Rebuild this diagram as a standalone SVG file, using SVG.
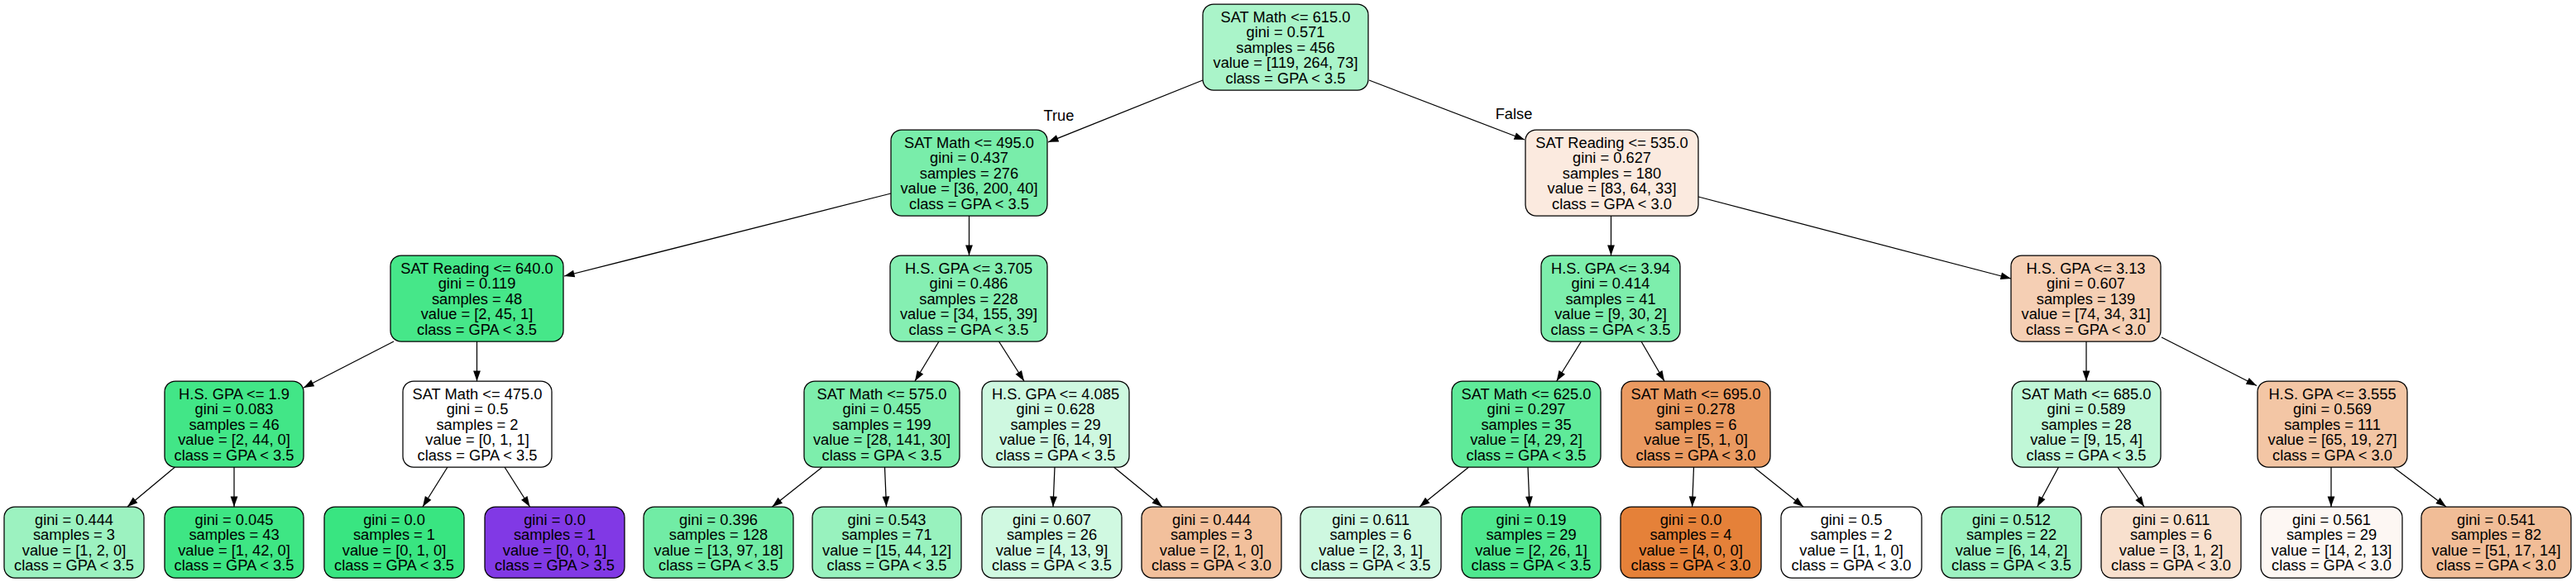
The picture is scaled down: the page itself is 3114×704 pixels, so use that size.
<svg xmlns="http://www.w3.org/2000/svg" width="3114" height="704" viewBox="0 0 3114 704">
<style>
.bg{fill:#ffffff}
.box{stroke:#000000;stroke-width:1.25}
text{font-family:"Liberation Sans",Helvetica,Arial,sans-serif;font-size:18.3px;fill:#000000;text-anchor:middle}
.edge line{stroke:#000000;stroke-width:1.25;marker-end:url(#arr)}
</style>
<defs>
<marker id="arr" markerUnits="userSpaceOnUse" markerWidth="14" markerHeight="10" viewBox="0 -5 13 10" refX="12.5" refY="0" orient="auto">
<path d="M0,-4.4 L12.5,0 L0,4.4 z" fill="#000000"/>
</marker>
</defs>
<rect class="bg" x="0" y="0" width="3114" height="704"/>

<g id="connectors" class="edge">
<line x1="1454" y1="97" x2="1267" y2="172"/>
<line x1="1655" y1="97" x2="1843" y2="169"/>
<line x1="1077" y1="234" x2="682" y2="334"/>
<line x1="1171.5" y1="261" x2="1171.5" y2="309"/>
<line x1="1947.5" y1="261" x2="1947.5" y2="309"/>
<line x1="2053" y1="238" x2="2431" y2="337"/>
<line x1="476" y1="413" x2="367" y2="469"/>
<line x1="576.5" y1="413" x2="576.5" y2="461"/>
<line x1="1135" y1="413" x2="1106" y2="461"/>
<line x1="1207.5" y1="413" x2="1238" y2="461"/>
<line x1="1911.5" y1="413" x2="1881.7" y2="461"/>
<line x1="1984" y1="413" x2="2012" y2="461"/>
<line x1="2522" y1="413" x2="2522" y2="461"/>
<line x1="2613" y1="408" x2="2728" y2="466.5"/>
<line x1="211.5" y1="565" x2="154" y2="613"/>
<line x1="283" y1="565" x2="283" y2="613"/>
<line x1="541" y1="565" x2="511" y2="613"/>
<line x1="610" y1="565" x2="640.5" y2="613"/>
<line x1="994" y1="565" x2="933.5" y2="613"/>
<line x1="1069.5" y1="565" x2="1071.5" y2="613"/>
<line x1="1275" y1="565" x2="1273" y2="613"/>
<line x1="1346.5" y1="565" x2="1405" y2="613"/>
<line x1="1775.5" y1="565" x2="1716" y2="613"/>
<line x1="1847" y1="565" x2="1849" y2="613"/>
<line x1="2047.5" y1="565" x2="2045.6" y2="613"/>
<line x1="2120" y1="565" x2="2180" y2="613"/>
<line x1="2488.5" y1="565" x2="2462.7" y2="613"/>
<line x1="2560" y1="565" x2="2592" y2="613"/>
<line x1="2818" y1="565" x2="2818" y2="613"/>
<line x1="2893" y1="565" x2="2957" y2="613"/>
<text x="1280" y="146">True</text>
<text x="1830" y="143.5">False</text>
</g>

<g id="node0"><rect class="box" x="1454" y="5" width="200" height="104" rx="13" fill="#aaf4c9"/>
<text x="1554" y="26.5">SAT Math &lt;= 615.0</text><text x="1554" y="45.15">gini = 0.571</text><text x="1554" y="63.8">samples = 456</text><text x="1554" y="82.45">value = [119, 264, 73]</text><text x="1554" y="101.1">class = GPA &lt; 3.5</text></g>

<g id="node1"><rect class="box" x="1077" y="157" width="189" height="104" rx="13" fill="#79edaa"/>
<text x="1171.5" y="178.5">SAT Math &lt;= 495.0</text><text x="1171.5" y="197.15">gini = 0.437</text><text x="1171.5" y="215.8">samples = 276</text><text x="1171.5" y="234.45">value = [36, 200, 40]</text><text x="1171.5" y="253.1">class = GPA &lt; 3.5</text></g>

<g id="node2"><rect class="box" x="1844" y="157" width="209" height="104" rx="13" fill="#fbeadf"/>
<text x="1948.5" y="178.5">SAT Reading &lt;= 535.0</text><text x="1948.5" y="197.15">gini = 0.627</text><text x="1948.5" y="215.8">samples = 180</text><text x="1948.5" y="234.45">value = [83, 64, 33]</text><text x="1948.5" y="253.1">class = GPA &lt; 3.0</text></g>

<g id="node3"><rect class="box" x="472" y="309" width="209" height="104" rx="13" fill="#46e789"/>
<text x="576.5" y="330.5">SAT Reading &lt;= 640.0</text><text x="576.5" y="349.15">gini = 0.119</text><text x="576.5" y="367.8">samples = 48</text><text x="576.5" y="386.45">value = [2, 45, 1]</text><text x="576.5" y="405.1">class = GPA &lt; 3.5</text></g>

<g id="node4"><rect class="box" x="1076" y="309" width="190" height="104" rx="13" fill="#85efb2"/>
<text x="1171" y="330.5">H.S. GPA &lt;= 3.705</text><text x="1171" y="349.15">gini = 0.486</text><text x="1171" y="367.8">samples = 228</text><text x="1171" y="386.45">value = [34, 155, 39]</text><text x="1171" y="405.1">class = GPA &lt; 3.5</text></g>

<g id="node5"><rect class="box" x="1863" y="309" width="168" height="104" rx="13" fill="#7deeac"/>
<text x="1947" y="330.5">H.S. GPA &lt;= 3.94</text><text x="1947" y="349.15">gini = 0.414</text><text x="1947" y="367.8">samples = 41</text><text x="1947" y="386.45">value = [9, 30, 2]</text><text x="1947" y="405.1">class = GPA &lt; 3.5</text></g>

<g id="node6"><rect class="box" x="2431" y="309" width="181" height="104" rx="13" fill="#f5cfb4"/>
<text x="2521.5" y="330.5">H.S. GPA &lt;= 3.13</text><text x="2521.5" y="349.15">gini = 0.607</text><text x="2521.5" y="367.8">samples = 139</text><text x="2521.5" y="386.45">value = [74, 34, 31]</text><text x="2521.5" y="405.1">class = GPA &lt; 3.0</text></g>

<g id="node7"><rect class="box" x="199" y="461" width="168" height="104" rx="13" fill="#42e687"/>
<text x="283" y="482.5">H.S. GPA &lt;= 1.9</text><text x="283" y="501.15">gini = 0.083</text><text x="283" y="519.8">samples = 46</text><text x="283" y="538.45">value = [2, 44, 0]</text><text x="283" y="557.1">class = GPA &lt; 3.5</text></g>

<g id="node8"><rect class="box" x="487" y="461" width="180" height="104" rx="13" fill="#ffffff"/>
<text x="577" y="482.5">SAT Math &lt;= 475.0</text><text x="577" y="501.15">gini = 0.5</text><text x="577" y="519.8">samples = 2</text><text x="577" y="538.45">value = [0, 1, 1]</text><text x="577" y="557.1">class = GPA &lt; 3.5</text></g>

<g id="node9"><rect class="box" x="972" y="461" width="188" height="104" rx="13" fill="#7deeac"/>
<text x="1066" y="482.5">SAT Math &lt;= 575.0</text><text x="1066" y="501.15">gini = 0.455</text><text x="1066" y="519.8">samples = 199</text><text x="1066" y="538.45">value = [28, 141, 30]</text><text x="1066" y="557.1">class = GPA &lt; 3.5</text></g>

<g id="node10"><rect class="box" x="1187" y="461" width="178" height="104" rx="13" fill="#cef8e0"/>
<text x="1276" y="482.5">H.S. GPA &lt;= 4.085</text><text x="1276" y="501.15">gini = 0.628</text><text x="1276" y="519.8">samples = 29</text><text x="1276" y="538.45">value = [6, 14, 9]</text><text x="1276" y="557.1">class = GPA &lt; 3.5</text></g>

<g id="node11"><rect class="box" x="1755" y="461" width="180" height="104" rx="13" fill="#5fea99"/>
<text x="1845" y="482.5">SAT Math &lt;= 625.0</text><text x="1845" y="501.15">gini = 0.297</text><text x="1845" y="519.8">samples = 35</text><text x="1845" y="538.45">value = [4, 29, 2]</text><text x="1845" y="557.1">class = GPA &lt; 3.5</text></g>

<g id="node12"><rect class="box" x="1960" y="461" width="180" height="104" rx="13" fill="#ea9a61"/>
<text x="2050" y="482.5">SAT Math &lt;= 695.0</text><text x="2050" y="501.15">gini = 0.278</text><text x="2050" y="519.8">samples = 6</text><text x="2050" y="538.45">value = [5, 1, 0]</text><text x="2050" y="557.1">class = GPA &lt; 3.0</text></g>

<g id="node13"><rect class="box" x="2432" y="461" width="180" height="104" rx="13" fill="#c0f7d7"/>
<text x="2522" y="482.5">SAT Math &lt;= 685.0</text><text x="2522" y="501.15">gini = 0.589</text><text x="2522" y="519.8">samples = 28</text><text x="2522" y="538.45">value = [9, 15, 4]</text><text x="2522" y="557.1">class = GPA &lt; 3.5</text></g>

<g id="node14"><rect class="box" x="2729" y="461" width="181" height="104" rx="13" fill="#f3c6a5"/>
<text x="2819.5" y="482.5">H.S. GPA &lt;= 3.555</text><text x="2819.5" y="501.15">gini = 0.569</text><text x="2819.5" y="519.8">samples = 111</text><text x="2819.5" y="538.45">value = [65, 19, 27]</text><text x="2819.5" y="557.1">class = GPA &lt; 3.0</text></g>

<g id="leaf1"><rect class="box" x="5" y="613" width="169" height="86" rx="13" fill="#9cf2c0"/>
<text x="89.5" y="634.5">gini = 0.444</text><text x="89.5" y="653.15">samples = 3</text><text x="89.5" y="671.8">value = [1, 2, 0]</text><text x="89.5" y="690.45">class = GPA &lt; 3.5</text></g>

<g id="leaf2"><rect class="box" x="199" y="613" width="168" height="86" rx="13" fill="#3ee684"/>
<text x="283" y="634.5">gini = 0.045</text><text x="283" y="653.15">samples = 43</text><text x="283" y="671.8">value = [1, 42, 0]</text><text x="283" y="690.45">class = GPA &lt; 3.5</text></g>

<g id="leaf3"><rect class="box" x="392" y="613" width="169" height="86" rx="13" fill="#39e581"/>
<text x="476.5" y="634.5">gini = 0.0</text><text x="476.5" y="653.15">samples = 1</text><text x="476.5" y="671.8">value = [0, 1, 0]</text><text x="476.5" y="690.45">class = GPA &lt; 3.5</text></g>

<g id="leaf4"><rect class="box" x="586" y="613" width="169" height="86" rx="13" fill="#8139e5"/>
<text x="670.5" y="634.5">gini = 0.0</text><text x="670.5" y="653.15">samples = 1</text><text x="670.5" y="671.8">value = [0, 0, 1]</text><text x="670.5" y="690.45">class = GPA &gt; 3.5</text></g>

<g id="leaf5"><rect class="box" x="778" y="613" width="181" height="86" rx="13" fill="#71eca5"/>
<text x="868.5" y="634.5">gini = 0.396</text><text x="868.5" y="653.15">samples = 128</text><text x="868.5" y="671.8">value = [13, 97, 18]</text><text x="868.5" y="690.45">class = GPA &lt; 3.5</text></g>

<g id="leaf6"><rect class="box" x="982" y="613" width="180" height="86" rx="13" fill="#98f2be"/>
<text x="1072" y="634.5">gini = 0.543</text><text x="1072" y="653.15">samples = 71</text><text x="1072" y="671.8">value = [15, 44, 12]</text><text x="1072" y="690.45">class = GPA &lt; 3.5</text></g>

<g id="leaf7"><rect class="box" x="1187" y="613" width="169" height="86" rx="13" fill="#d0f9e1"/>
<text x="1271.5" y="634.5">gini = 0.607</text><text x="1271.5" y="653.15">samples = 26</text><text x="1271.5" y="671.8">value = [4, 13, 9]</text><text x="1271.5" y="690.45">class = GPA &lt; 3.5</text></g>

<g id="leaf8"><rect class="box" x="1380" y="613" width="169" height="86" rx="13" fill="#f2c09c"/>
<text x="1464.5" y="634.5">gini = 0.444</text><text x="1464.5" y="653.15">samples = 3</text><text x="1464.5" y="671.8">value = [2, 1, 0]</text><text x="1464.5" y="690.45">class = GPA &lt; 3.0</text></g>

<g id="leaf9"><rect class="box" x="1572" y="613" width="170" height="86" rx="13" fill="#cef8e0"/>
<text x="1657" y="634.5">gini = 0.611</text><text x="1657" y="653.15">samples = 6</text><text x="1657" y="671.8">value = [2, 3, 1]</text><text x="1657" y="690.45">class = GPA &lt; 3.5</text></g>

<g id="leaf10"><rect class="box" x="1767" y="613" width="168" height="86" rx="13" fill="#4fe88f"/>
<text x="1851" y="634.5">gini = 0.19</text><text x="1851" y="653.15">samples = 29</text><text x="1851" y="671.8">value = [2, 26, 1]</text><text x="1851" y="690.45">class = GPA &lt; 3.5</text></g>

<g id="leaf11"><rect class="box" x="1959" y="613" width="170" height="86" rx="13" fill="#e58139"/>
<text x="2044" y="634.5">gini = 0.0</text><text x="2044" y="653.15">samples = 4</text><text x="2044" y="671.8">value = [4, 0, 0]</text><text x="2044" y="690.45">class = GPA &lt; 3.0</text></g>

<g id="leaf12"><rect class="box" x="2153" y="613" width="170" height="86" rx="13" fill="#ffffff"/>
<text x="2238" y="634.5">gini = 0.5</text><text x="2238" y="653.15">samples = 2</text><text x="2238" y="671.8">value = [1, 1, 0]</text><text x="2238" y="690.45">class = GPA &lt; 3.0</text></g>

<g id="leaf13"><rect class="box" x="2347" y="613" width="169" height="86" rx="13" fill="#9cf2c0"/>
<text x="2431.5" y="634.5">gini = 0.512</text><text x="2431.5" y="653.15">samples = 22</text><text x="2431.5" y="671.8">value = [6, 14, 2]</text><text x="2431.5" y="690.45">class = GPA &lt; 3.5</text></g>

<g id="leaf14"><rect class="box" x="2540" y="613" width="169" height="86" rx="13" fill="#f8e0ce"/>
<text x="2624.5" y="634.5">gini = 0.611</text><text x="2624.5" y="653.15">samples = 6</text><text x="2624.5" y="671.8">value = [3, 1, 2]</text><text x="2624.5" y="690.45">class = GPA &lt; 3.0</text></g>

<g id="leaf15"><rect class="box" x="2733" y="613" width="171" height="86" rx="13" fill="#fdf7f3"/>
<text x="2818.5" y="634.5">gini = 0.561</text><text x="2818.5" y="653.15">samples = 29</text><text x="2818.5" y="671.8">value = [14, 2, 13]</text><text x="2818.5" y="690.45">class = GPA &lt; 3.0</text></g>

<g id="leaf16"><rect class="box" x="2927" y="613" width="181" height="86" rx="13" fill="#f1bd97"/>
<text x="3017.5" y="634.5">gini = 0.541</text><text x="3017.5" y="653.15">samples = 82</text><text x="3017.5" y="671.8">value = [51, 17, 14]</text><text x="3017.5" y="690.45">class = GPA &lt; 3.0</text></g>
</svg>
